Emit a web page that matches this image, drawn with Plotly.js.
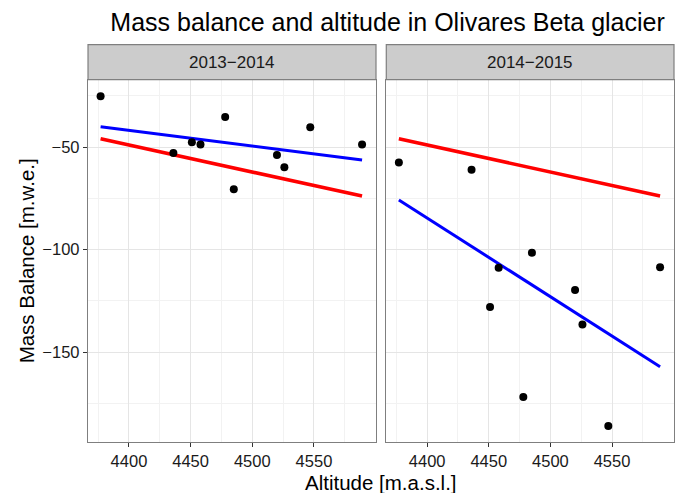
<!DOCTYPE html>
<html><head><meta charset="utf-8">
<script src="https://cdn.plot.ly/plotly-3.0.1.min.js"></script>
<style>body{margin:0;padding:0;background:#fff}#plot{width:686px;height:493px}</style>
</head><body><div id="plot"></div>
<script>
const panels = ["2013\u22122014", "2014\u22122015"];
const altitude = [4377, 4436, 4451, 4458, 4478, 4485, 4520, 4526, 4547, 4589];
const mb2014 = [-25.2, -52.9, -47.7, -48.7, -35.4, -70.5, -53.9, -59.9, -40.4, -48.7];
const mb2015 = [-57.5, -61.0, -127.9, -108.8, -171.8, -101.5, -119.7, -136.4, -185.9, -108.5];
const fitX = [4377, 4589];
const fitRed = [-46.0, -73.9];
const fitBlue2014 = [-40.1, -56.3];
const fitBlue2015 = [-75.8, -157.0];

const font = "Liberation Sans, Arial, sans-serif";
const traces = [];
function addPanel(xa, ya, mb, blue) {
  traces.push({x: fitX, y: fitRed, xaxis: xa, yaxis: ya, mode: 'lines', line: {color: '#ff0000', width: 3.6}, hoverinfo: 'skip'});
  traces.push({x: fitX, y: blue, xaxis: xa, yaxis: ya, mode: 'lines', line: {color: '#0000ff', width: 3}, hoverinfo: 'skip'});
  traces.push({x: altitude, y: mb, xaxis: xa, yaxis: ya, mode: 'markers', marker: {color: '#000', size: 8}});
}
addPanel('x', 'y', mb2014, fitBlue2014);
addPanel('x2', 'y2', mb2015, fitBlue2015);

const yb = 0.1034, yt = 0.8383, st = 0.9093;
const d1 = [0.1283, 0.5481], d2 = [0.5631, 0.9825];
const xax = (dom) => ({domain: dom, range: [4366.8, 4600.3], tickvals: [4400, 4450, 4500, 4550],
  ticks: 'outside', ticklen: 4, tickcolor: '#333', tickwidth: 1, showline: true, mirror: true, linecolor: '#7f7f7f', linewidth: 1.2,
  gridcolor: '#e5e5e5', gridwidth: 1, zeroline: false, tickfont: {family: font, size: 16.5, color: '#1a1a1a'},
  minor: {tickvals: [4375, 4425, 4475, 4525, 4575], showgrid: true, gridcolor: '#f2f2f2', gridwidth: 1}});
const yax = (anchor, show) => ({domain: [yb, yt], range: [-193.7, -17.2], anchor: anchor, tickvals: [-50, -100, -150],
  showticklabels: show, ticks: show ? 'outside' : '', ticklen: 4, tickcolor: '#333', showline: true, mirror: true, linecolor: '#7f7f7f', linewidth: 1.2,
  gridcolor: '#e5e5e5', zeroline: false, tickfont: {family: font, size: 16.5, color: '#1a1a1a'},
  minor: {tickvals: [-25, -75, -125, -175], showgrid: true, gridcolor: '#f2f2f2', gridwidth: 1}});

const layout = {
  width: 686, height: 493, margin: {l: 0, r: 0, t: 0, b: 0}, showlegend: false,
  paper_bgcolor: '#fff', plot_bgcolor: '#fff',
  title: {text: 'Mass balance and altitude in Olivares Beta glacier', font: {family: font, size: 25, color: '#000'}, x: 0.565, xanchor: 'center', y: 0.955, yanchor: 'middle'},
  xaxis: Object.assign(xax(d1), {anchor: 'y'}),
  xaxis2: Object.assign(xax(d2), {anchor: 'y2'}),
  yaxis: yax('x', true),
  yaxis2: yax('x2', false),
  shapes: [
    {type: 'rect', xref: 'paper', yref: 'paper', x0: d1[0], x1: d1[1], y0: yt, y1: st, fillcolor: '#cccccc', line: {color: '#7f7f7f', width: 1.2}},
    {type: 'rect', xref: 'paper', yref: 'paper', x0: d2[0], x1: d2[1], y0: yt, y1: st, fillcolor: '#cccccc', line: {color: '#7f7f7f', width: 1.2}}
  ],
  annotations: [
    {text: panels[0], xref: 'paper', yref: 'paper', x: (d1[0] + d1[1]) / 2, y: (yt + st) / 2, showarrow: false, font: {family: font, size: 17, color: '#1a1a1a'}, xanchor: 'center', yanchor: 'middle'},
    {text: panels[1], xref: 'paper', yref: 'paper', x: (d2[0] + d2[1]) / 2, y: (yt + st) / 2, showarrow: false, font: {family: font, size: 17, color: '#1a1a1a'}, xanchor: 'center', yanchor: 'middle'},
    {text: 'Altitude [m.a.s.l.]', xref: 'paper', yref: 'paper', x: 0.555, y: 0.022, showarrow: false, font: {family: font, size: 20.5, color: '#000'}, xanchor: 'center', yanchor: 'middle'},
    {text: 'Mass Balance [m.w.e.]', xref: 'paper', yref: 'paper', x: 0.038, y: 0.47, textangle: -90, showarrow: false, font: {family: font, size: 20.5, color: '#000'}, xanchor: 'center', yanchor: 'middle'}
  ]
};
Plotly.newPlot('plot', traces, layout, {staticPlot: true});
</script></body></html>
